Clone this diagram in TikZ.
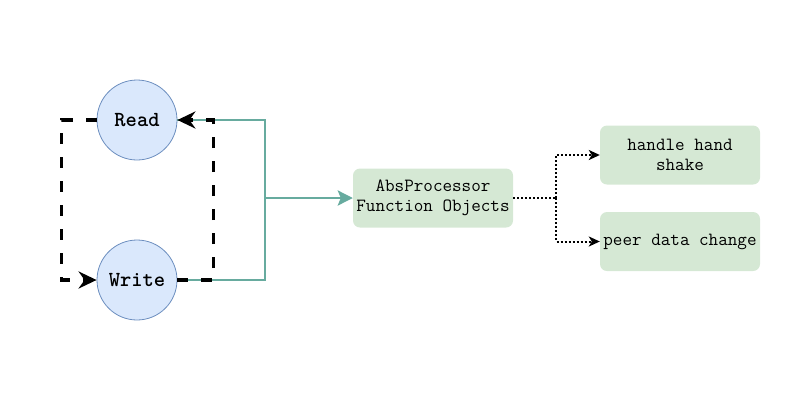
\documentclass[tikz,border=0pt]{standalone}
\usetikzlibrary{arrows.meta}
\definecolor{cfill}{HTML}{DAE8FC}
\definecolor{cdraw}{HTML}{6C8EBF}
\definecolor{gfill}{HTML}{D5E8D4}
\definecolor{gline}{HTML}{67AB9F}
\begin{document}
\begin{tikzpicture}[x=1bp,y=-1bp,
  circ/.style={circle,draw=cdraw,fill=cfill,line width=0.8bp,minimum size=80bp,inner sep=0pt,
    font=\ttfamily\bfseries\fontsize{21.5bp}{24bp}\selectfont},
  gbox/.style={rounded corners=7bp,fill=gfill,minimum width=160bp,minimum height=59bp,inner sep=0pt,
    align=center,font=\ttfamily\fontsize{18.6bp}{19.5bp}\selectfont},
  bk/.style={line width=3.4bp,black,dash pattern=on 11bp off 13bp,
    -{Stealth[length=18bp,width=17bp,inset=6bp]}},
  gr/.style={line width=2.8bp,gline},
  dt/.style={line width=2bp,black,dash pattern=on 2bp off 2bp,
    -{Stealth[length=11bp,width=10bp,inset=3bp]}}
]
\useasboundingbox (0,0) rectangle (795,411);
\node[circ] (read) at (137,120) {Read};
\node[circ] (write) at (137,280) {Write};
\node[gbox] (abs) at (433,198) {AbsProcessor\\Function Objects};
\node[gbox] (hhs) at (680,155) {handle hand\\shake};
\node[gbox] (pdc) at (680,241.5) {peer data change};
\coordinate (j) at (265,198);
\coordinate (d) at (556,198);
% green connectors
\draw[gr] (read.east) -| (j);
\draw[gr] (write.east) -| (j);
\draw[gr,-{Stealth[length=15bp,width=15bp,inset=3bp]}] (j) -- (abs.west);
% black dashed loop
\draw[bk] (read.west) -- ++(-35,0) |- (write.west);
\draw[bk] (write.east) -- ++(36,0) |- (read.east);
% dotted
\draw[line width=2bp,black,dash pattern=on 2bp off 2bp] (abs.east) -- (d);
\draw[dt] (d) |- (hhs.west);
\draw[dt] (d) |- (pdc.west);
\end{tikzpicture}
\end{document}
